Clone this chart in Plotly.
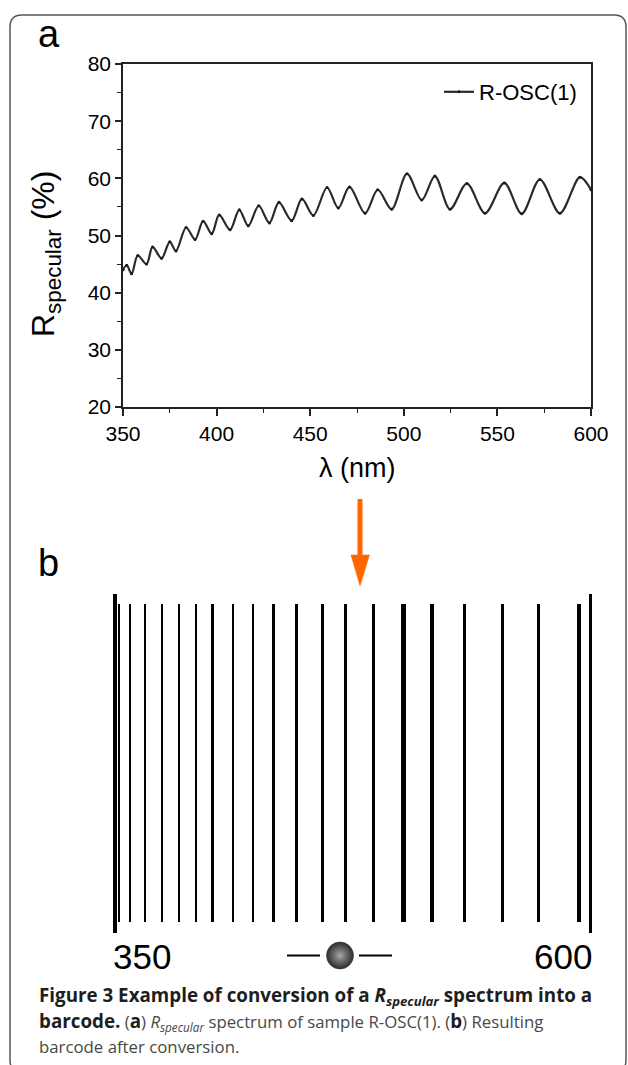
import plotly.graph_objects as go

# ---------------- data ----------------
# Panel a: R_specular spectrum of R-OSC(1) (peaks and troughs)
wavelength_nm = [350, 352.0, 354.6, 357.9, 362.6, 365.8, 370.6, 375.0, 378.3, 383.7,
                 388.5, 392.8, 397.4, 401.4, 407.2, 412.1, 416.9, 422.5, 428.2, 433.3,
                 440.1, 445.6, 451.7, 459.0, 465.0, 471.0, 479.3, 486.1, 493.5, 501.7,
                 509.6, 516.6, 524.7, 533.7, 543.4, 553.7, 563.0, 572.7, 583.4, 594.1, 600]
r_specular = [44.0, 44.8, 43.3, 46.5, 45.0, 48.0, 46.0, 48.9, 47.3, 51.4,
              49.3, 52.5, 50.3, 53.6, 51.0, 54.5, 51.7, 55.2, 52.2, 55.8,
              52.6, 56.4, 53.5, 58.4, 54.8, 58.5, 53.9, 58.0, 54.6, 60.8,
              56.2, 60.4, 54.6, 59.1, 53.9, 59.2, 53.8, 59.8, 53.9, 60.2, 58.0]
series_name = "R-OSC(1)"

x_ticks = [350, 400, 450, 500, 550, 600]
y_ticks = [20, 30, 40, 50, 60, 70, 80]

# Panel b: barcode lines (peak wavelengths) and their relative thickness
bar_wavelength = [352.0, 357.9, 365.8, 375.0, 383.7, 392.8, 401.4, 412.1, 422.5, 433.3,
                  445.6, 459.0, 471.0, 486.1, 501.7, 516.6, 533.7, 553.7, 572.7, 594.1]
bar_weight = [1.0, 1.3, 1.2, 1.4, 1.6, 1.9, 1.9, 1.9, 1.6, 2.6,
              2.6, 2.6, 2.9, 2.6, 4.6, 3.9, 3.2, 3.2, 3.2, 4.2]
bar_limits = [350, 600]
bar_limit_labels = ["350", "600"]

# ---------------- geometry helpers ----------------
W, H = 628, 1065


def px(x):
    return x / W


def py(y):
    return 1 - y / H


BAR_X0, BAR_X1 = 115, 590.3          # pixel x of 350 / 600 in the barcode
NM_PER_PX = (bar_limits[1] - bar_limits[0]) / (BAR_X1 - BAR_X0)
BAR_TOP, BAR_BOT = 604, 922           # pixel y of normal barcode lines
UNIT = BAR_BOT - BAR_TOP


def uy(y):
    return (BAR_BOT - y) / UNIT


X2_L, X2_R = 100, 605
Y2_T, Y2_B = 590, 978

fig = go.Figure()

# spectrum
fig.add_trace(go.Scatter(
    x=wavelength_nm, y=r_specular, name=series_name,
    mode="lines+markers",
    line=dict(color="#2a2a2a", width=2.2, shape="spline", smoothing=0.9),
    marker=dict(color="#1a1a1a", size=3),
    xaxis="x", yaxis="y", showlegend=True,
))

# barcode lines
fig.add_trace(go.Bar(
    x=bar_wavelength, y=[1.0] * len(bar_wavelength), base=0,
    width=[w * NM_PER_PX for w in bar_weight],
    marker=dict(color="black", line=dict(width=0)),
    xaxis="x2", yaxis="y2", showlegend=False, hoverinfo="skip",
))
ext_lo, ext_hi = uy(933), uy(594)
fig.add_trace(go.Bar(
    x=bar_limits, y=[ext_hi - ext_lo] * 2, base=ext_lo,
    width=[3.4 * NM_PER_PX] * 2,
    marker=dict(color="black", line=dict(width=0)),
    xaxis="x2", yaxis="y2", showlegend=False, hoverinfo="skip",
))

# ball symbol
ball_x = bar_limits[0] + (340 - BAR_X0) * NM_PER_PX
fig.add_trace(go.Scatter(
    x=[ball_x], y=[uy(955.5)], mode="markers",
    marker=dict(size=27, color="#2c2c2c", line=dict(width=0.6, color="#333"),
                gradient=dict(type="radial", color="#a6a6a6")),
    xaxis="x2", yaxis="y2", showlegend=False, hoverinfo="skip",
))

axis_font = dict(family="Arial, Liberation Sans, sans-serif", size=21, color="black")

fig.update_layout(
    width=W, height=H,
    margin=dict(l=0, r=0, t=0, b=0),
    paper_bgcolor="white", plot_bgcolor="white",
    bargap=0,
    xaxis=dict(
        domain=[px(123), px(591)], range=[350, 600], anchor="y",
        tickvals=x_ticks, ticks="outside", ticklen=7, tickwidth=1.5, tickcolor="#222",
        minor=dict(dtick=25, tick0=350, ticks="outside", ticklen=4, tickwidth=1.3,
                   tickcolor="#222", showgrid=False),
        showline=True, linecolor="#222", linewidth=1.5, mirror=True,
        showgrid=False, zeroline=False, tickfont=axis_font, automargin=False,
    ),
    yaxis=dict(
        domain=[py(407), py(64)], range=[20, 80], anchor="x",
        tickvals=y_ticks, ticks="outside", ticklen=6, tickwidth=1.5, tickcolor="#222",
        minor=dict(dtick=5, tick0=20, ticks="outside", ticklen=4, tickwidth=1.3,
                   tickcolor="#222", showgrid=False),
        showline=True, linecolor="#222", linewidth=1.5, mirror=True,
        showgrid=False, zeroline=False, tickfont=axis_font, automargin=False,
    ),
    xaxis2=dict(domain=[px(X2_L), px(X2_R)],
                range=[bar_limits[0] - (BAR_X0 - X2_L) * NM_PER_PX,
                       bar_limits[1] + (X2_R - BAR_X1) * NM_PER_PX],
                anchor="y2", visible=False, fixedrange=True),
    yaxis2=dict(domain=[py(Y2_B), py(Y2_T)], range=[uy(Y2_B), uy(Y2_T)], anchor="x2",
                visible=False, fixedrange=True),
    legend=dict(x=px(582), y=py(92), xanchor="right", yanchor="middle",
                bgcolor="rgba(0,0,0,0)",
                font=dict(family="Arial, Liberation Sans, sans-serif", size=22, color="black")),
    showlegend=True,
)

ann = []
# panel letters
for letter, yc in (("a", 34), ("b", 563)):
    ann.append(dict(text=letter, x=px(36), y=py(yc), xref="paper", yref="paper",
                    xanchor="left", yanchor="middle", showarrow=False,
                    font=dict(family="Arial, Liberation Sans, sans-serif", size=38, color="black")))
# axis titles
ann.append(dict(text="R<sub>specular</sub> (%)", x=px(46), y=py(254), xref="paper", yref="paper",
                xanchor="center", yanchor="middle", textangle=-90, showarrow=False,
                font=dict(family="Arial, Liberation Sans, sans-serif", size=32, color="black")))
ann.append(dict(text="λ (nm)", x=px(357), y=py(468), xref="paper", yref="paper",
                xanchor="center", yanchor="middle", showarrow=False,
                font=dict(family="Arial, Liberation Sans, sans-serif", size=27, color="black")))
# barcode range labels
ann.append(dict(text=bar_limit_labels[0], x=bar_limits[0], xref="x2", y=py(956), yref="paper",
                xanchor="left", yanchor="middle", xshift=-4, showarrow=False,
                font=dict(family="Arial, Liberation Sans, sans-serif", size=35, color="black")))
ann.append(dict(text=bar_limit_labels[1], x=bar_limits[1], xref="x2", y=py(956), yref="paper",
                xanchor="right", yanchor="middle", xshift=4, showarrow=False,
                font=dict(family="Arial, Liberation Sans, sans-serif", size=35, color="black")))
# caption
cap_font = dict(family="Open Sans, sans-serif", size=16.8, color="#484848")
bold_open = "<span style='color:#1e1e1e;font-size:18.8px'><b>"
bold_close = "</b></span>"
cap_lines = [
    bold_open + "Figure 3 Example of conversion of a <i>R<sub>specular</sub></i> spectrum into a" + bold_close,
    bold_open + "barcode." + bold_close + " (" + bold_open + "a" + bold_close
    + ") <i>R<sub>specular</sub></i> spectrum of sample R-OSC(1). ("
    + bold_open + "b" + bold_close + ") Resulting",
    "barcode after conversion.",
]
for line, yc in zip(cap_lines, (996, 1021, 1046)):
    ann.append(dict(text=line, x=px(37), y=py(yc), xref="paper", yref="paper",
                    xanchor="left", yanchor="middle", showarrow=False, font=cap_font))
fig.update_layout(annotations=ann)

# ---------------- decorations ----------------
shapes = []
# rounded frame
L, T, R, B, r = 10, 15, 626, 1072, 12
path = (f"M{px(L)},{py(B - r)} L{px(L)},{py(T + r)} Q{px(L)},{py(T)} {px(L + r)},{py(T)} "
        f"L{px(R - r)},{py(T)} Q{px(R)},{py(T)} {px(R)},{py(T + r)} L{px(R)},{py(B - r)} "
        f"Q{px(R)},{py(B)} {px(R - r)},{py(B)} L{px(L + r)},{py(B)} Q{px(L)},{py(B)} {px(L)},{py(B - r)} Z")
shapes.append(dict(type="path", path=path, xref="paper", yref="paper",
                   line=dict(color="#555", width=1.5), fillcolor="rgba(0,0,0,0)", layer="above"))
# orange arrow
orange = "#ff6600"
shapes.append(dict(type="line", xref="paper", yref="paper", x0=px(360), x1=px(360),
                   y0=py(499), y1=py(558), line=dict(color=orange, width=5)))
shapes.append(dict(type="path", xref="paper", yref="paper",
                   path=f"M{px(351)},{py(555)} L{px(369.5)},{py(555)} L{px(360)},{py(586)} Z",
                   fillcolor=orange, line=dict(color=orange, width=0.5)))
# lines beside the ball
for x0, x1 in ((287, 320), (359, 392)):
    shapes.append(dict(type="line", xref="paper", yref="paper", x0=px(x0), x1=px(x1),
                       y0=py(955.5), y1=py(955.5), line=dict(color="black", width=2)))
fig.update_layout(shapes=shapes)

fig.write_html("out.html", config={"displayModeBar": False},
               post_script="document.body.style.margin='0';document.body.style.overflow='hidden';")
